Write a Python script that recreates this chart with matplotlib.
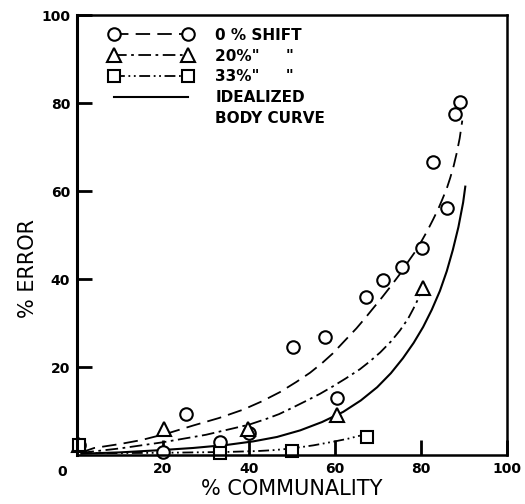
import matplotlib
matplotlib.use("Agg")
import matplotlib.pyplot as plt
from matplotlib.lines import Line2D

# measured points (open symbols)
shift0_x = [0.5, 20, 25.4, 33.3, 40, 50.3, 57.6, 60.4, 67.2, 71.2, 75.5, 80.2, 82.8, 86, 87.9, 89]
shift0_y = [2.2, 0.7, 9.3, 3.0, 5.0, 24.6, 26.9, 13.0, 36.0, 39.8, 42.8, 47.0, 66.6, 56.1, 77.5, 80.2]
shift20_x = [0.5, 20.2, 39.8, 60.4, 80.5]
shift20_y = [2.2, 5.8, 5.8, 9.0, 38.0]
shift33_x = [0.5, 33.3, 50, 67.4]
shift33_y = [2.2, 0.5, 1.0, 4.2]

# fitted curves
curve0_x = [1, 4, 10, 15, 21, 27, 33, 38.6, 43, 47.2, 51, 54.2, 57, 59.5, 62, 65, 67, 69, 71, 73,
            75, 76.7, 78.5, 80, 81.5, 82.8, 84, 85, 86, 86.8, 87.6, 88.3, 89, 89.6]
curve0_y = [0.6, 1.6, 2.5, 3.4, 4.9, 6.7, 8.4, 10.3, 12.2, 14.3, 16.6, 18.7, 20.9, 23.1, 25.7, 28.8,
            31.1, 33.5, 35.9, 38.4, 41.0, 43.5, 46.0, 48.4, 51.0, 53.5, 55.9, 58.2, 60.6, 63.0,
            65.7, 68.6, 72.0, 76.0]
curve20_x = [1, 10, 20, 30, 40, 44, 47, 50, 53.5, 56.5, 59.5, 62.5, 65.8, 68, 70.5, 73, 75.1, 77,
             78.2, 79.2, 80]
curve20_y = [0.5, 1.5, 2.9, 4.6, 6.9, 8.2, 9.3, 10.7, 12.4, 13.9, 15.6, 17.4, 19.5, 21.2, 23.3,
             25.8, 28.3, 31.0, 33.2, 35.2, 37.2]
curve33_x = [1, 20, 35, 42, 45.6, 50, 55, 60, 63, 65.8]
curve33_y = [0.4, 0.5, 0.7, 0.9, 1.1, 1.5, 2.2, 3.1, 3.7, 4.4]
body_x = [1, 10, 19.3, 27, 34.9, 41, 46.5, 51.9, 57, 61.9, 66, 69.8, 73, 75.8, 78.3, 80.5, 82.5,
          84.4, 86, 87.4, 88.7, 89.8, 90.3]
body_y = [0.3, 0.6, 1.1, 1.6, 2.3, 3.1, 4.1, 5.6, 7.5, 9.8, 12.4, 15.4, 18.6, 22.0, 25.5, 29.1,
          33.0, 37.3, 41.8, 46.6, 51.8, 57.4, 61.0]

labels = ['0 % SHIFT', '20%"     "', '33%"     "', 'IDEALIZED', 'BODY CURVE']

fig = plt.figure(figsize=(5.25, 5.04), dpi=100)
ax = fig.add_axes([0.1467, 0.0972, 0.819, 0.873])

lw = 1.3
d0 = [8, 4]
d20 = [7, 2.5, 1.5, 2.5]
d33 = [6, 2, 1, 2, 1, 2]
ax.plot(curve0_x, curve0_y, color="k", lw=lw, dashes=d0)
ax.plot(curve20_x, curve20_y, color="k", lw=lw, dashes=d20)
ax.plot(curve33_x, curve33_y, color="k", lw=lw, dashes=d33)
ax.plot(body_x, body_y, color="k", lw=1.5)

mk = dict(ls="none", mfc="white", mec="k", mew=1.5, clip_on=False)
ax.plot(shift0_x, shift0_y, marker="o", ms=9, **mk)
ax.plot(shift20_x, shift20_y, marker="^", ms=10, **mk)
ax.plot(shift33_x, shift33_y, marker="s", ms=8.5, **mk)

handles = [
    Line2D([], [], color="k", lw=lw, dashes=d0, marker="o", ms=9, mfc="white", mec="k", mew=1.5),
    Line2D([], [], color="k", lw=lw, dashes=d20, marker="^", ms=10, mfc="white", mec="k", mew=1.5),
    Line2D([], [], color="k", lw=lw, dashes=d33, marker="s", ms=8.5, mfc="white", mec="k", mew=1.5),
    Line2D([], [], color="k", lw=1.5),
    Line2D([], [], ls="none"),
]
leg = ax.legend(handles, labels, loc="upper left", bbox_to_anchor=(0.062, 0.985),
                numpoints=2, handlelength=5.4, handletextpad=1.5, labelspacing=0.38,
                frameon=False, prop=dict(size=11, weight="bold"), borderaxespad=0)

ax.set_xlim(0, 100)
ax.set_ylim(0, 100)
ax.set_xticks([20, 40, 60, 80, 100])
ax.set_yticks([20, 40, 60, 80, 100])
ax.tick_params(direction="in", length=11, width=2, labelsize=10, pad=5)
for t in ax.get_xticklabels() + ax.get_yticklabels():
    t.set_fontweight("bold")
ax.text(-3.5, -2.3, "0", ha="center", va="top", fontsize=10, fontweight="bold")

for s in ax.spines.values():
    s.set_linewidth(1.8)
ax.spines["left"].set_linewidth(2.2)

ax.set_xlabel("% COMMUNALITY", fontsize=15, labelpad=2)
ax.set_ylabel("% ERROR", fontsize=15)
ax.yaxis.set_label_coords(-0.09, 0.425)

fig.savefig("out.png", dpi=100)
